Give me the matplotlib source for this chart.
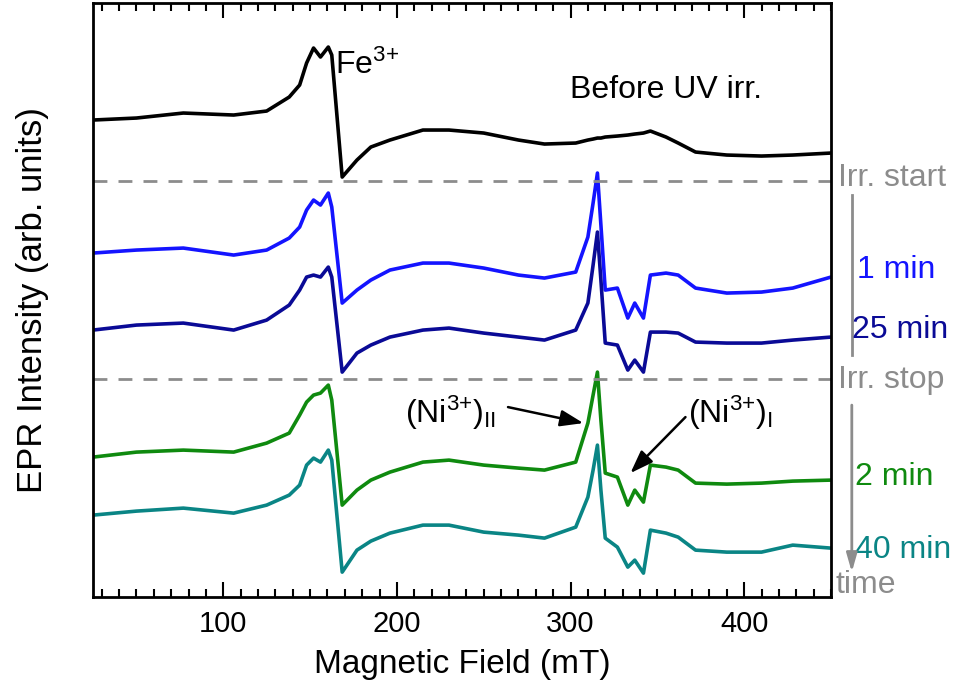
import matplotlib

matplotlib.use("Agg")
import matplotlib.pyplot as plt  # noqa: E402
from matplotlib.ticker import MultipleLocator  # noqa: E402

plt.rcParams["font.family"] = ["Liberation Sans", "DejaVu Sans"]
plt.rcParams["mathtext.fontset"] = "custom"
plt.rcParams["mathtext.rm"] = "Liberation Sans"
plt.rcParams["mathtext.it"] = "Liberation Sans"

# magnetic field grid (mT) and stacked spectra (arb. units, offsets included)
field = [25, 50, 77, 106, 125, 138, 144, 148, 152, 156, 160.5, 162.5, 168.5, 177,
         185, 196, 215, 230, 250, 270, 285, 303, 310, 313, 315.5, 317.5, 320, 327,
         333, 337, 342, 346, 355, 362, 372, 390, 410, 428, 450]

before_uv = [4.80, 4.82, 4.87, 4.85, 4.89, 5.03, 5.15, 5.37, 5.52, 5.43, 5.53, 5.45,
             4.23, 4.40, 4.53, 4.60, 4.70, 4.70, 4.67, 4.60, 4.56, 4.57, 4.60, 4.61,
             4.62, 4.62, 4.63, 4.64, 4.65, 4.66, 4.67, 4.69, 4.63, 4.57, 4.48, 4.45,
             4.44, 4.45, 4.47]
irr_1min = [3.47, 3.50, 3.52, 3.45, 3.50, 3.62, 3.73, 3.90, 4.00, 3.95, 4.07, 3.93,
            2.97, 3.10, 3.20, 3.30, 3.37, 3.37, 3.32, 3.25, 3.22, 3.28, 3.63, 3.97,
            4.27, 3.75, 3.10, 3.12, 2.82, 2.97, 2.82, 3.25, 3.27, 3.25, 3.12, 3.07,
            3.08, 3.12, 3.23]
irr_25min = [2.70, 2.75, 2.77, 2.70, 2.80, 2.95, 3.10, 3.23, 3.25, 3.23, 3.33, 3.23,
             2.28, 2.47, 2.55, 2.63, 2.70, 2.72, 2.67, 2.63, 2.60, 2.70, 2.97, 3.35,
             3.68, 3.20, 2.57, 2.55, 2.30, 2.40, 2.28, 2.68, 2.68, 2.67, 2.58, 2.57,
             2.57, 2.60, 2.63]
after_2min = [1.43, 1.48, 1.50, 1.48, 1.57, 1.67, 1.85, 1.98, 2.05, 2.07, 2.15, 2.00,
              0.95, 1.10, 1.20, 1.28, 1.38, 1.40, 1.35, 1.32, 1.30, 1.38, 1.77, 2.05,
              2.28, 1.80, 1.27, 1.23, 0.95, 1.10, 0.98, 1.35, 1.33, 1.30, 1.17, 1.16,
              1.17, 1.19, 1.20]
after_40min = [0.85, 0.89, 0.92, 0.87, 0.95, 1.05, 1.15, 1.35, 1.42, 1.38, 1.50, 1.40,
               0.28, 0.50, 0.59, 0.67, 0.75, 0.75, 0.68, 0.65, 0.62, 0.73, 1.03, 1.30,
               1.55, 1.10, 0.62, 0.53, 0.33, 0.40, 0.27, 0.70, 0.67, 0.63, 0.50, 0.48,
               0.48, 0.55, 0.52]

irr_start_level = 4.19
irr_stop_level = 2.21

fig = plt.figure(figsize=(9.64, 6.84), dpi=100)
ax = fig.add_axes([0.0965, 0.127, 0.7655, 0.8686])

lw = 2.6
ax.plot(field, before_uv, color="black", lw=lw)
ax.plot(field, irr_1min, color="#1414ff", lw=lw)
ax.plot(field, irr_25min, color="#0a0a96", lw=lw)
ax.plot(field, after_2min, color="#0f8a0f", lw=lw)
ax.plot(field, after_40min, color="#0a8585", lw=lw)

gray = "#8c8c8c"
ax.axhline(irr_start_level, color=gray, lw=2, ls=(0, (5, 4)))
ax.axhline(irr_stop_level, color=gray, lw=2, ls=(0, (5, 4)))

ax.set_xlim(25, 450)
ax.set_ylim(0.03, 5.97)
ax.xaxis.set_major_locator(MultipleLocator(100))
ax.xaxis.set_minor_locator(MultipleLocator(10))
ax.tick_params(axis="x", which="both", direction="in", top=True, bottom=True,
               labelsize=21, width=1.5)
ax.tick_params(axis="x", which="major", length=11, pad=9)
ax.tick_params(axis="x", which="minor", length=6)
ax.set_yticks([])
for s in ax.spines.values():
    s.set_linewidth(2)

ax.set_xlabel("Magnetic Field (mT)", fontsize=24, labelpad=8)
ax.set_ylabel("EPR Intensity (arb. units)", fontsize=25, labelpad=32)

fs = 23
ax.text(164.5, 5.35, "Fe$^{3{+}}$", fontsize=fs, ha="left", va="center")
ax.text(355, 5.10, "Before UV irr.", fontsize=fs, ha="center", va="center")

arrow = dict(arrowstyle="-|>,head_length=0.7,head_width=0.25", color="black",
             lw=1.8, mutation_scale=20, shrinkA=0, shrinkB=0)
ax.text(231, 1.87, "(Ni$^{3{+}}$)$_{\\mathrm{II}}$", fontsize=fs, ha="center",
        va="center")
ax.annotate("", xy=(307.4, 1.77), xytext=(264, 1.93), arrowprops=arrow)
ax.text(392, 1.87, "(Ni$^{3{+}}$)$_{\\mathrm{I}}$", fontsize=fs, ha="center",
        va="center")
ax.annotate("", xy=(334.5, 1.27), xytext=(366.2, 1.83), arrowprops=arrow)

# side labels outside the axes
side = dict(fontsize=fs, va="center", ha="left", clip_on=False)
ax.text(454, 4.22, "Irr. start", color=gray, **side)
ax.text(465, 3.30, "1 min", color="#1414ff", **side)
ax.text(462, 2.70, "25 min", color="#0a0a96", **side)
ax.text(454, 2.20, "Irr. stop", color=gray, **side)
ax.text(464, 1.23, "2 min", color="#0f8a0f", **side)
ax.text(464, 0.50, "40 min", color="#0a8585", **side)
ax.text(452.5, 0.15, "time", color=gray, **side)

ax.plot([462, 462], [4.05, 2.45], color=gray, lw=2, clip_on=False)
ax.annotate("", xy=(462, 0.28), xytext=(462, 1.95), annotation_clip=False,
            arrowprops=dict(arrowstyle="-|>,head_length=0.7,head_width=0.2",
                            color=gray, lw=2, mutation_scale=16,
                            shrinkA=0, shrinkB=0))

fig.savefig("out.png", dpi=100)
